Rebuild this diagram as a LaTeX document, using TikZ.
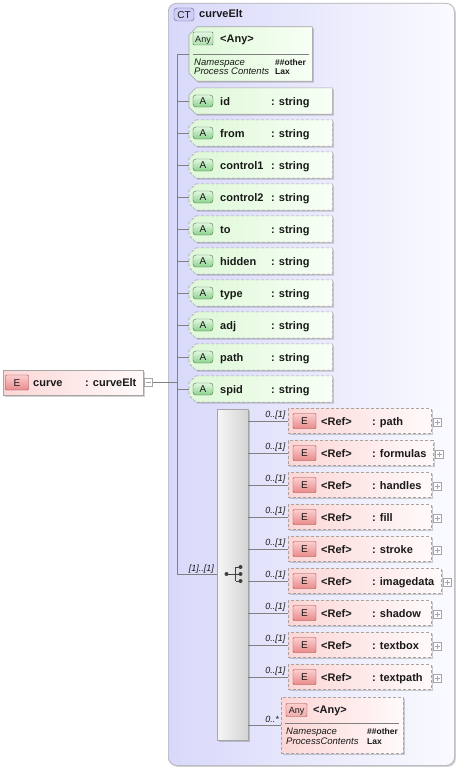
\documentclass[tikz,border=0pt]{standalone}
\usepackage{fontspec}
\setmainfont{Liberation Sans}
\usetikzlibrary{shadows}
\definecolor{lineC}{RGB}{128,128,128}
\definecolor{txtC}{RGB}{25,25,25}
\definecolor{ctL}{RGB}{216,216,250}
\definecolor{ctR}{RGB}{250,250,255}
\definecolor{ctB}{RGB}{175,175,180}
\definecolor{grL}{RGB}{222,248,215}
\definecolor{grR}{RGB}{248,255,246}
\definecolor{pkL}{RGB}{252,214,214}
\definecolor{pkR}{RGB}{255,250,250}
\definecolor{boxB}{RGB}{165,165,165}
\definecolor{eBa}{RGB}{232,140,140}
\definecolor{eBb}{RGB}{252,205,205}
\definecolor{eBd}{RGB}{160,70,70}
\definecolor{aBa}{RGB}{140,210,140}
\definecolor{aBb}{RGB}{225,248,225}
\definecolor{aBd}{RGB}{70,110,70}
\definecolor{ctBa}{RGB}{205,205,245}
\definecolor{ctBd}{RGB}{95,95,140}
\definecolor{seqL}{RGB}{246,246,246}
\definecolor{seqR}{RGB}{212,212,212}
% chamfered outline around a (plain, invisible) node: #1 node, #2 chamfer, #3 style
\newcommand\chamfshape[3]{%
  \path[#3] ([xshift=#2]#1.north west) -- (#1.north east) -- (#1.south east)
     -- ([xshift=#2]#1.south west) -- ([yshift=#2]#1.south west)
     -- ([yshift=-#2]#1.north west) -- cycle;
}
\newcommand\attrrow[4]{%
  \node[attrbox] (#1) at (189,#2) {};
  \chamfshape{#1}{7}{attrshape,#4}
  \node[abadge] (#1b) at ([xshift=14]#1.west) {A};
  \node[lbl] (#1n) at (220,#2) {#3};
  \node[lbl] (#1t) at (271,#2) {: string};
  \draw[conn] (#1.west -| spTop) -- (#1.west);
}
\newcommand\refrow[4]{%
  \node[ebox, minimum width=#4] (#1) at (288,#2) {};
  \node[ebadge] (#1b) at ([xshift=16.5]#1.west) {E};
  \node[lbl] (#1r) at (321,#2) {<Ref>};
  \node[lbl] (#1n) at (372,#2) {: #3};
  \node[plusbox] (#1p) at ([xshift=5.5,yshift=-1]#1.east) {};
  \draw[conn] (#1.west -| seq.east) -- (#1.west);
  \node[mult, anchor=east] (#1m) at ([xshift=-2.5,yshift=6.5]#1.west) {0..[1]};
}
\begin{document}
\begin{tikzpicture}[x=1pt,y=-1pt,
  conn/.style={draw=lineC, line width=0.7pt},
  lbl/.style={anchor=west, inner sep=0pt, font=\fontsize{11}{13}\selectfont\bfseries, text=txtC, text height=8pt, text depth=0pt},
  mult/.style={inner sep=0pt, font=\fontsize{9}{11}\selectfont\itshape, text=txtC, text height=6.5pt, text depth=0pt},
  smalli/.style={anchor=west, inner sep=0pt, font=\fontsize{9.5}{11}\selectfont\itshape, text=txtC, text height=7pt, text depth=0pt},
  smallb/.style={anchor=west, inner sep=0pt, font=\fontsize{8.5}{10}\selectfont\bfseries, text=txtC, text height=6.5pt, text depth=0pt},
  shad/.style={drop shadow={shadow xshift=1.5pt, shadow yshift=-1.5pt, opacity=0.18, fill=black}},
  badge/.style={draw, inner sep=0pt, font=\fontsize{10}{12}\selectfont, text=txtC, text height=7.5pt, text depth=0pt},
  ebadge/.style={badge, minimum width=23, minimum height=15, draw=eBd, top color=eBb, bottom color=eBa, rounded corners=1pt},
  abadge/.style={badge, minimum width=20, minimum height=12, draw=aBd, top color=aBb, bottom color=aBa, rounded corners=3pt},
  anybadgeG/.style={badge, minimum width=20, minimum height=13, draw=aBd, top color=aBb, bottom color=aBa!70, rounded corners=1pt, font=\fontsize{9}{11}\selectfont},
  anybadgeP/.style={badge, minimum width=21, minimum height=13, draw=eBd, top color=eBb, bottom color=eBa!70, rounded corners=1pt, font=\fontsize{9}{11}\selectfont},
  ctbadge/.style={badge, minimum width=20, minimum height=13, draw=ctBd, fill=ctBa, rounded corners=3pt},
  attrbox/.style={rectangle, anchor=west, inner sep=0pt, minimum width=143, minimum height=26},
  attrshape/.style={draw=boxB, left color=grL, right color=grR, shad, line width=0.6pt},
  ebox/.style={rectangle, anchor=west, inner sep=0pt, minimum height=25, draw=boxB, line width=0.6pt, dashed, dash pattern=on 3pt off 2pt,
     left color=pkL, right color=pkR, shad},
  plusbox/.style={rectangle, draw=boxB, fill=white, minimum size=8, inner sep=0pt,
     path picture={\draw[boxB] ([xshift=1.5]path picture bounding box.west) -- ([xshift=-1.5]path picture bounding box.east);
                   \draw[boxB] ([yshift=1.5]path picture bounding box.south) -- ([yshift=-1.5]path picture bounding box.north);}},
  minusbox/.style={rectangle, draw=boxB, fill=white, minimum size=8, inner sep=0pt,
     path picture={\draw[boxB] ([xshift=1.5]path picture bounding box.west) -- ([xshift=-1.5]path picture bounding box.east);}},
  optd/.style={dashed, dash pattern=on 3pt off 2pt}
]
\useasboundingbox (0,0) rectangle (458,768);
\fill[white] (0,0) rectangle (458,768);

% complex type container
\node[rectangle, anchor=north west, minimum width=286, minimum height=762, inner sep=0pt,
  rounded corners=8pt, draw=ctB, line width=0.7pt, left color=ctL, right color=ctR, shad] (ct) at (168,3) {};
\node[ctbadge] (ctb) at (184,14.5) {CT};
\node[lbl] (ctn) at (199,14) {curveElt};

% spine
\coordinate (spTop) at (177,54);
\coordinate (spBot) at (177,574);
\draw[conn] (spTop) -- (spBot);

% top any
\node[rectangle, anchor=west, inner sep=0pt, minimum width=123, minimum height=54] (any1) at (189,54) {};
\chamfshape{any1}{8}{attrshape}
\node[anybadgeG] (any1b) at (203,38.5) {Any};
\node[lbl] (any1n) at (220,38.5) {<Any>};
\draw[draw=lineC, line width=0.6pt] (193,54) -- (309,54);
\node[smalli] (any1ns) at (194,62) {Namespace};
\node[smalli] (any1pc) at (194,71) {Process Contents};
\node[smallb] (any1nv) at (275,62) {\#\#other};
\node[smallb] (any1pv) at (275,71) {Lax};
\draw[conn] (spTop) -- (any1.west);

% attributes
\attrrow{aid}{101}{id}{}
\attrrow{afrom}{133}{from}{optd}
\attrrow{acontrolA}{165}{control1}{optd}
\attrrow{acontrolB}{197}{control2}{optd}
\attrrow{ato}{229}{to}{optd}
\attrrow{ahidden}{261}{hidden}{optd}
\attrrow{atype}{293}{type}{optd}
\attrrow{aadj}{325}{adj}{optd}
\attrrow{apath}{357}{path}{optd}
\attrrow{aspid}{389}{spid}{optd}

% the element
\node[rectangle, inner sep=0pt, minimum width=140, minimum height=25, draw=boxB, line width=0.6pt, left color=pkL, right color=pkR, shad] (curve) at (73,382.5) {};
\node[ebadge] (curveb) at (17,382.5) {E};
\node[lbl] (curven) at (33,382.5) {curve};
\node[lbl] (curvet) at (85,382.5) {: curveElt};
\node[minusbox] (curvem) at (148.5,382.5) {};
\draw[conn] (curvem.east) -- (curvem.east -| spTop);

% sequence
\node[rectangle, inner sep=0pt, minimum width=31, minimum height=331, draw=boxB, line width=0.6pt, left color=seqL, right color=seqR, shad] (seq) at (232.5,574.5) {};
\draw[conn] (spBot) -- (spBot -| seq.west);
\node[mult, anchor=east] (seqm) at (214,568.5) {[1]..[1]};
\begin{scope}[draw=black!75, fill=black!75, line width=0.9pt]
  \fill (226.5,574) circle (2);
  \draw (226.5,574) -- (235.5,574);
  \draw (235.5,567) -- (235.5,581);
  \draw (235.5,567) -- (240,567);
  \draw (235.5,574) -- (240,574);
  \draw (235.5,581) -- (240,581);
  \fill (240.5,567) circle (2);
  \fill (240.5,574) circle (2);
  \fill (240.5,581) circle (2);
\end{scope}

% referenced children
\refrow{rpath}{421}{path}{143}
\refrow{rformulas}{453}{formulas}{145}
\refrow{rhandles}{485}{handles}{143}
\refrow{rfill}{517}{fill}{143}
\refrow{rstroke}{549}{stroke}{143}
\refrow{rimagedata}{581}{imagedata}{153}
\refrow{rshadow}{613}{shadow}{143}
\refrow{rtextbox}{645}{textbox}{143}
\refrow{rtextpath}{677}{textpath}{143}

% bottom any
\node[rectangle, inner sep=0pt, minimum width=122, minimum height=56, draw=boxB, line width=0.6pt, optd, left color=pkL, right color=pkR, shad] (any2) at (342,725) {};
\node[anybadgeP] (any2b) at (296.5,710) {Any};
\node[lbl] (any2n) at (313,709) {<Any>};
\draw[draw=lineC, line width=0.6pt] (285,723) -- (399,723);
\node[smalli] (any2ns) at (286,731) {Namespace};
\node[smalli] (any2pc) at (286,741) {ProcessContents};
\node[smallb] (any2nv) at (367,731) {\#\#other};
\node[smallb] (any2pv) at (367,741) {Lax};
\draw[conn] (any2.west -| seq.east) -- (any2.west);
\node[mult, anchor=east] (any2m) at (279,719) {0..*};
\end{tikzpicture}
\end{document}
